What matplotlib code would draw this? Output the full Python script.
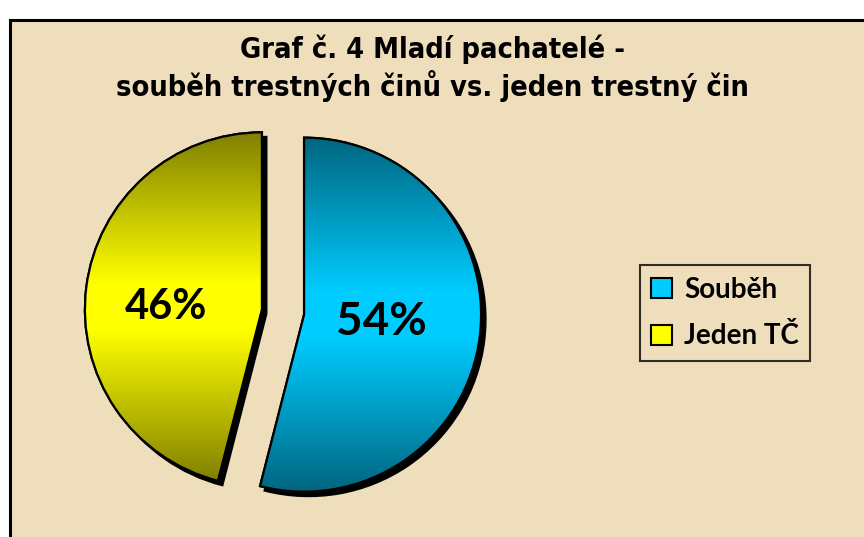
import matplotlib
matplotlib.use("Agg")
import matplotlib.pyplot as plt
import matplotlib.patches as mpatches
import numpy as np

categories = ["Souběh", "Jeden TČ"]
shares = [54, 46]
explode_frac = [0.12, 0.12]
title_lines = ["Graf č. 4 Mladí pachatelé -", "souběh trestných činů vs. jeden trestný čin"]

bright = [(0, 204, 255), (255, 255, 0)]
dark = [(0, 102, 128), (128, 128, 0)]
paper = "#EFDEBC"

W, H = 864, 537
R = 177
fig = plt.figure(figsize=(W / 100, H / 100), dpi=100, facecolor="white")
ax = fig.add_axes([0, 0, 1, 1])

# chart area with black border (runs off the right/bottom edge)
ax.add_patch(mpatches.Rectangle((10, -20), 900, H - 10 + 20 - 10, facecolor=paper,
                                edgecolor="black", linewidth=2.2, zorder=0))

# pie's explode is in data units, so scale by radius
wedges, texts, autotexts = ax.pie(
    shares, explode=[e * R for e in explode_frac], startangle=90, counterclock=False,
    center=(283, 225), radius=R, autopct="%1.0f%%", pctdistance=0.5,
    colors=[np.array(c) / 255 for c in bright],
    wedgeprops=dict(edgecolor="black", linewidth=1.6), frame=True)

for i, w in enumerate(wedges):
    w.set_zorder(3)
    # drop shadow
    cx, cy = w.center
    sh = mpatches.Wedge((cx + 4.5, cy - 4.5), w.r, w.theta1, w.theta2,
                        facecolor="black", edgecolor="black", linewidth=1.5, zorder=2)
    ax.add_patch(sh)
    # vertical gradient dark-bright-dark
    bb = w.get_path().get_extents(w.get_transform() - ax.transData)
    t = np.linspace(0, 1, 256)
    k = 1 - np.abs(2 * t - 1)
    k = np.clip(k * 1.15, 0, 1)
    d = np.array(dark[i]) / 255
    b = np.array(bright[i]) / 255
    grad = d[None, :] + (b - d)[None, :] * k[:, None]
    im = ax.imshow(grad[:, None, :], extent=[bb.x0, bb.x1, bb.y0, bb.y1],
                   origin="lower", aspect="auto", zorder=3.5, interpolation="bilinear")
    im.set_clip_path(w)
    outline = mpatches.Wedge(w.center, w.r, w.theta1, w.theta2, facecolor="none",
                             edgecolor="black", linewidth=1.6, zorder=4)
    ax.add_patch(outline)

label_font = ["Lato", "DejaVu Sans"]
autotexts[0].set_position((381, H - 322))
autotexts[0].set_fontsize(33)
autotexts[1].set_position((166, H - 307))
autotexts[1].set_fontsize(30)
for a in autotexts:
    a.set_family(label_font)
    a.set_fontweight("bold")
    a.set_color("black")
    a.set_zorder(6)

title_font = ["DejaVu Sans", "Liberation Sans"]
for line, base in zip(title_lines, [58, 96]):
    ax.text(432, H - base, line, ha="center", va="baseline", fontsize=20.8,
            fontweight="bold", fontstretch="condensed", family=title_font, zorder=6)

handles = [mpatches.Patch(facecolor=np.array(c) / 255, edgecolor="black", linewidth=1.5)
           for c in bright]
leg = ax.legend(handles, categories, loc="center", bbox_to_anchor=(725 / W, 1 - 313 / H),
                bbox_transform=fig.transFigure, frameon=True, fancybox=False,
                prop=dict(family=label_font, weight="bold", size=20),
                handlelength=0.75, handleheight=0.75, handletextpad=0.45,
                labelspacing=0.75, borderpad=0.4, borderaxespad=0)
leg.get_frame().set_facecolor("none")
leg.get_frame().set_edgecolor("black")
leg.get_frame().set_linewidth(1.5)
leg.set_zorder(7)

ax.set_xlim(0, W)
ax.set_ylim(0, H)
ax.set_aspect("auto")
ax.axis("off")

fig.savefig("out.png", dpi=100, facecolor="white")
